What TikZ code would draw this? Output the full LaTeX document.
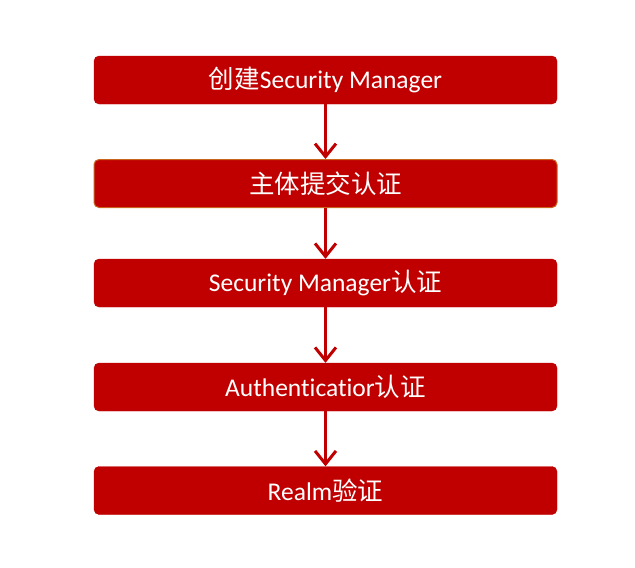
\documentclass[tikz,border=0pt]{standalone}
\usepackage{fontspec}
\setmainfont[Ligatures=NoCommon]{Carlito}
\newfontfamily\cjk{Noto Sans CJK SC}
\usetikzlibrary{arrows.meta}
\definecolor{boxred}{HTML}{C00000}
\definecolor{boxedge}{HTML}{C8641E}
\begin{document}
\begin{tikzpicture}[x=1pt,y=-1pt,
  stepbox/.style={fill=boxred,draw=boxred,rounded corners=5pt,minimum width=463pt,minimum height=48pt,inner sep=0pt,text=white,font=\fontsize{25.5}{30}\selectfont},
  flow/.style={draw=boxred,line width=3pt,-{Straight Barb[length=13pt,width=21pt,line width=3pt]}}]
\useasboundingbox (0,0) rectangle (635,568);
\node[stepbox] (b1) at (325.5,80) {{\cjk 创建}Security Manager};
\node[stepbox,draw=boxedge,line width=1pt] (b2) at (325.5,183.5) {\cjk 主体提交认证};
\node[stepbox] (b3) at (325.5,283) {Security Manager{\cjk 认证}};
\node[stepbox] (b4) at (325.5,387) {Authenticatior{\cjk 认证}};
\node[stepbox] (b5) at (325.5,490.5) {Realm{\cjk 验证}};
\draw[flow] (b1.south) -- (b2.north);
\draw[flow] (b2.south) -- (b3.north);
\draw[flow] (b3.south) -- (b4.north);
\draw[flow] (b4.south) -- (b5.north);
\end{tikzpicture}
\end{document}
